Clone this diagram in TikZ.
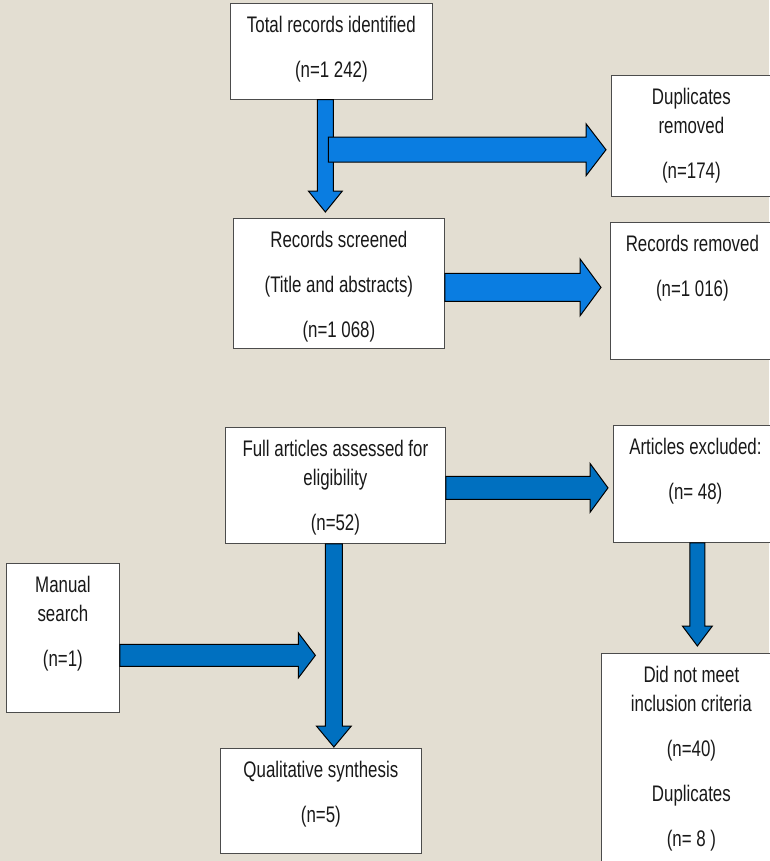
\documentclass[tikz,border=0pt]{standalone}
\usepackage{fontspec}
\setmainfont{Liberation Sans}[FakeStretch=0.75]
\usepackage{xcolor}
\usepackage{tikz}
\usetikzlibrary{calc}
\definecolor{bgbeige}{RGB}{227,222,210}
\definecolor{topblue}{RGB}{10,125,225}
\definecolor{lowblue}{RGB}{0,112,192}
\newcommand{\boxtext}[3]{\parbox[c][#2pt][t]{#1pt}{\centering\rule{0pt}{29pt}#3}}

\begin{document}
\begin{tikzpicture}[x=1pt, y=-1pt,
  textbox/.style={draw=black!70, line width=0.75pt, fill=white, inner sep=0, anchor=north west, text=black!90, font=\fontsize{22.5}{29}\selectfont},
  arrshaft/.store in=\sw, arrhead/.store in=\hw, arrlen/.store in=\hl,
  fatarrow/.style={draw=black, line width=1pt, to path={
    (\tikztostart) coordinate (fa-s) (\tikztotarget) coordinate (fa-t)
    ($(fa-s)!\sw!90:(fa-t)$)
    -- ($(fa-t)!\hl!(fa-s)!\sw!90:(fa-t)$)
    -- ($(fa-t)!\hl!(fa-s)!\hw!90:(fa-t)$)
    -- (fa-t)
    -- ($(fa-t)!\hl!(fa-s)!\hw!-90:(fa-t)$)
    -- ($(fa-t)!\hl!(fa-s)!\sw!-90:(fa-t)$)
    -- ($(fa-s)!\sw!-90:(fa-t)$) -- cycle}}]
\path[use as bounding box, fill=bgbeige] (0,0) rectangle (769,861);
%boxes
\node[textbox] (tot) at (230,3) {\boxtext{202}{96}{Total records identified\\[16pt](n=1 242)}};
\node[textbox] (dup) at (611,75) {\boxtext{160}{121}{Duplicates\\removed\\[16pt](n=174)}};
\node[textbox] (scr) at (233,218) {\boxtext{211}{130}{Records screened\\[16pt](Title and abstracts)\\[16pt](n=1 068)}};
\node[textbox] (rem) at (610,222) {\boxtext{164}{137}{Records removed\\[16pt](n=1 016)}};
\node[textbox] (full) at (225,427) {\boxtext{220}{116}{Full articles assessed for\\eligibility\\[16pt](n=52)}};
\node[textbox] (exc) at (613,425) {\boxtext{164}{117}{Articles excluded:\\[16pt](n= 48)}};
\node[textbox] (man) at (6,563) {\boxtext{113}{149}{Manual\\search\\[16pt](n=1)}};
\node[textbox] (qual) at (220,748) {\boxtext{201}{105}{Qualitative synthesis\\[16pt](n=5)}};
\node[textbox] (dnm) at (601,653) {\boxtext{180}{220}{Did not meet\\inclusion criteria\\[16pt](n=40)\\[16pt]Duplicates\\[16pt](n= 8 )}};
\coordinate (split) at ($(tot.south)+(-3,50)$);
\coordinate (mantip) at ($(man.east -| full.south)+(-20,17.5)$);
%arrows
\draw[fatarrow, fill=topblue, arrshaft=8pt, arrhead=17pt, arrlen=21pt] ($(tot.south)+(-6,0)$) to ($(scr.north)+(-13.5,-6)$);
\draw[fatarrow, fill=topblue, arrshaft=12.5pt, arrhead=26pt, arrlen=20pt] (split) to ($(split -| dup.west)+(-5,0)$);
\draw[fatarrow, fill=topblue, arrshaft=14pt, arrhead=28.5pt, arrlen=21pt] ($(scr.east)+(0,4)$) to ($(scr.east -| rem.west)+(-9,4)$);
\draw[fatarrow, fill=lowblue, arrshaft=11.5pt, arrhead=24.5pt, arrlen=18pt] ($(full.east)+(0,2.5)$) to ($(full.east -| exc.west)+(-5,2.5)$);
\draw[fatarrow, fill=lowblue, arrshaft=8.5pt, arrhead=17.5pt, arrlen=21pt] ($(full.south)+(-1.5,0)$) to ($(full.south |- qual.north)+(-1.5,-1)$);
\draw[fatarrow, fill=lowblue, arrshaft=11pt, arrhead=22.5pt, arrlen=17pt] ($(man.east)+(0,17.5)$) to (mantip);
\draw[fatarrow, fill=lowblue, arrshaft=7.5pt, arrhead=15pt, arrlen=20pt] ($(exc.south)+(2,0)$) to ($(exc.south |- dnm.north)+(2,-7)$);
\end{tikzpicture}
\end{document}
